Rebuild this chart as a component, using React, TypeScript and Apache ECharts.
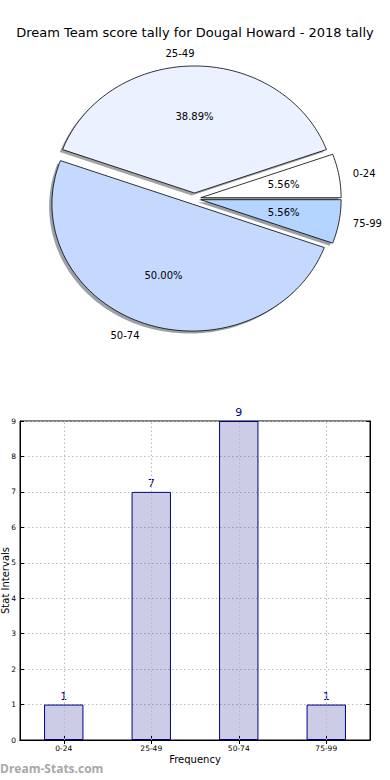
import React, { useEffect, useRef } from 'react';
import * as echarts from 'echarts';

const titleText = 'Dream Team score tally for Dougal Howard - 2018 tally';
const categories = ['0-24', '25-49', '50-74', '75-99'];
const counts = [1, 7, 9, 1];
const pieColors = ['#ffffff', '#ebf1ff', '#c5d9ff', '#b4d5ff'];
const yMin = 0;
const yMax = 9;
const yInterval = 1;

// pie geometry (layout only)
const CX = 194.5;
const CY = 198.7;
const RX = 140.4;
const RY = 127;
const EXPLODE = 0.045;
const SHADOW_DX = -2.8;
const SHADOW_DY = 2.5;
const FONT = '"DejaVu Sans", sans-serif';
const GRID_LINE = { color: '#bbbbbb', type: [1.5, 2.5], width: 1 };

function hexToRgb(h: string) {
  const v = parseInt(h.slice(1), 16);
  return [(v >> 16) & 255, (v >> 8) & 255, v & 255];
}

function sliceGeom(i: number, value: number) {
  const total = counts.reduce((a, b) => a + b, 0);
  let start = 0;
  for (let j = 0; j < i; j++) start += counts[j];
  const a1 = (start / total) * 360;
  const a2 = ((start + value) / total) * 360;
  const mid = (((a1 + a2) / 2) * Math.PI) / 180;
  const ox = CX + EXPLODE * RX * Math.cos(mid);
  const oy = CY - EXPLODE * RY * Math.sin(mid);
  const pts: number[][] = [[ox, oy]];
  const n = Math.max(4, Math.ceil((a2 - a1) / 1.5));
  for (let k = 0; k <= n; k++) {
    const t = ((a1 + ((a2 - a1) * k) / n) * Math.PI) / 180;
    pts.push([ox + RX * Math.cos(t), oy - RY * Math.sin(t)]);
  }
  return { pts, ox, oy, mid, pct: (value / total) * 100 };
}

export default function App() {
  const ref = useRef<HTMLDivElement>(null);
  useEffect(() => {
    if (!ref.current) return;
    const chart = echarts.init(ref.current, undefined, { renderer: 'svg' });
    const option: any = {
      animation: false,
      backgroundColor: '#ffffff',
      title: {
        text: titleText,
        left: 'center',
        top: 21,
        textStyle: { fontFamily: FONT, fontSize: 13, fontWeight: 'normal', color: '#000' },
      },
      graphic: [
        {
          type: 'text',
          left: 0,
          top: 762,
          style: {
            text: 'Dream-Stats.com',
            font: 'bold 12px "Open Sans", sans-serif',
            fill: '#a8a8a8',
          },
        },
      ],
      grid: {
        left: 20,
        right: 20,
        top: 421,
        bottom: 40,
        containLabel: false,
        outerBoundsMode: 'none',
        show: true,
        borderColor: '#000',
        borderWidth: 1,
        backgroundColor: 'transparent',
      },
      xAxis: [
        {
          type: 'category',
          data: categories,
          position: 'bottom',
          name: 'Frequency',
          nameLocation: 'middle',
          nameGap: 14,
          nameMoveOverlap: false,
          nameTextStyle: { fontFamily: FONT, fontSize: 10, color: '#000' },
          axisLine: { show: true, lineStyle: { color: '#000', width: 1 } },
          axisTick: { show: true, inside: true, alignWithLabel: true, length: 4, lineStyle: { color: '#000' } },
          axisLabel: { fontFamily: FONT, fontSize: 7.5, color: '#000', margin: 4 },
          splitLine: { show: false },
        },
        {
          type: 'category',
          data: categories,
          position: 'top',
          axisLine: { show: true, lineStyle: { color: '#000', width: 1 } },
          axisTick: { show: true, inside: true, alignWithLabel: true, length: 4, lineStyle: { color: '#000' } },
          axisLabel: { show: false },
          splitLine: { show: false },
        },
      ],
      yAxis: [
        {
          type: 'value',
          min: yMin,
          max: yMax,
          interval: yInterval,
          position: 'left',
          name: 'Stat Intervals',
          nameLocation: 'middle',
          nameGap: 9.5,
          nameMoveOverlap: false,
          nameTextStyle: { fontFamily: FONT, fontSize: 10, color: '#000' },
          axisLine: { show: true, lineStyle: { color: '#000', width: 1 } },
          axisTick: { show: true, inside: true, length: 4, lineStyle: { color: '#000' } },
          axisLabel: { fontFamily: FONT, fontSize: 7.5, color: '#000', margin: 4 },
          splitLine: { show: true, lineStyle: GRID_LINE },
        },
        {
          type: 'value',
          min: yMin,
          max: yMax,
          interval: yInterval,
          position: 'right',
          axisLine: { show: true, lineStyle: { color: '#000', width: 1 } },
          axisTick: { show: true, inside: true, length: 4, lineStyle: { color: '#000' } },
          axisLabel: { show: false },
          splitLine: { show: false },
        },
      ],
      series: [
        {
          type: 'bar',
          xAxisIndex: 0,
          yAxisIndex: 0,
          data: counts,
          barWidth: '45%',
          itemStyle: { color: 'rgba(0,0,128,0.2)', borderColor: '#000080', borderWidth: 1 },
          label: {
            show: true,
            position: 'top',
            distance: 3,
            color: '#000080',
            fontFamily: FONT,
            fontSize: 11,
          },
          markLine: {
            silent: true,
            symbol: ['none', 'none'],
            label: { show: false },
            lineStyle: GRID_LINE,
            emphasis: { disabled: true },
            data: categories.map((c) => ({ xAxis: c })),
          },
        },
        {
          type: 'custom',
          coordinateSystem: 'none',
          z: 1,
          data: counts,
          renderItem: (params: any, api: any) => {
            const i = params.dataIndex;
            const g = sliceGeom(i, api.value(0));
            const [r, gg, b] = hexToRgb(pieColors[i]);
            return {
              type: 'polygon',
              shape: { points: g.pts.map((p) => [p[0] + SHADOW_DX, p[1] + SHADOW_DY]) },
              style: {
                fill: `rgba(${Math.round(r * 0.3)},${Math.round(gg * 0.3)},${Math.round(b * 0.3)},0.5)`,
                stroke: 'none',
              },
              silent: true,
            };
          },
        },
        {
          type: 'custom',
          coordinateSystem: 'none',
          z: 2,
          data: counts,
          renderItem: (params: any, api: any) => {
            const i = params.dataIndex;
            const g = sliceGeom(i, api.value(0));
            const c = Math.cos(g.mid);
            const s = Math.sin(g.mid);
            const px = g.ox + 0.6 * RX * c;
            const py = g.oy - 0.6 * RY * s;
            const lx = g.ox + 1.1 * RX * c;
            const ly = g.oy - 1.1 * RY * s;
            return {
              type: 'group',
              children: [
                {
                  type: 'polygon',
                  shape: { points: g.pts },
                  style: { fill: pieColors[i], stroke: '#000', lineWidth: 0.8 },
                },
                {
                  type: 'text',
                  style: {
                    text: g.pct.toFixed(2) + '%',
                    x: px,
                    y: py,
                    align: 'center',
                    verticalAlign: 'middle',
                    fontFamily: FONT,
                    fontSize: 10,
                    fill: '#000',
                  },
                },
                {
                  type: 'text',
                  style: {
                    text: categories[i],
                    x: lx,
                    y: ly,
                    align: c > 1e-6 ? 'left' : 'right',
                    verticalAlign: 'middle',
                    fontFamily: FONT,
                    fontSize: 10,
                    fill: '#000',
                  },
                },
              ],
            };
          },
        },
      ],
    };
    chart.setOption(option);
    return () => chart.dispose();
  }, []);
  return (
    <div
      ref={ref}
      style={{ position: 'fixed', left: 0, top: 0, width: 390, height: 780, background: '#fff' }}
    />
  );
}
